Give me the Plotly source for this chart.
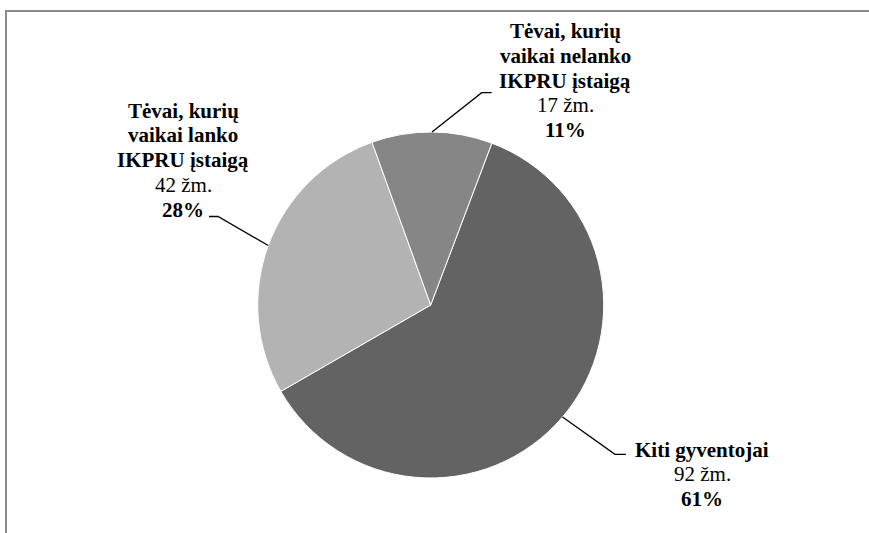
import math
import plotly.graph_objects as go

# ---------------------------------------------------------------------------
# Data
# ---------------------------------------------------------------------------
groups = ["Kiti gyventojai",
          "Tėvai, kurių vaikai lanko IKPRU įstaigą",
          "Tėvai, kurių vaikai nelanko IKPRU įstaigą"]
label_lines = [["Kiti gyventojai"],
               ["Tėvai, kurių", "vaikai lanko", "IKPRU įstaigą"],
               ["Tėvai, kurių", "vaikai nelanko", "IKPRU įstaigą"]]
people = [92, 42, 17]
colors = ["#636363", "#b3b3b3", "#868686"]

W, H = 869, 533
FONT = "Liberation Serif, Times New Roman, serif"
FS = 21
LINE_H = 24.8

# pie geometry (pixels)
cx, cy, r = 430.7, 305.0, 173.0
rotation = 20.7

# label placement: centre x, first baseline y, leader elbow, leader end
label_pos = [
    dict(x=702, y0=455.5, elbow=(615, 454.3), end=(626, 454.3)),
    dict(x=183, y0=116.7, elbow=(218, 216.5), end=(209, 216.5)),
    dict(x=565, y0=37.0, elbow=(481.7, 92.7), end=(491.7, 92.7)),
]


def px(x):
    return x / W


def py(y):
    return 1 - y / H


fig = go.Figure(go.Pie(
    labels=groups,
    values=people,
    sort=False,
    direction="clockwise",
    rotation=rotation,
    marker=dict(colors=colors, line=dict(color="white", width=1)),
    textinfo="none",
    hoverinfo="label+value+percent",
    domain=dict(x=[px(cx - r), px(cx + r)], y=[py(cy + r), py(cy - r)]),
))

total = sum(people)
annotations = []
shapes = []
angle = rotation
for lines, n, pos in zip(label_lines, people, label_pos):
    sweep = 360.0 * n / total
    mid = math.radians(angle + sweep / 2)
    angle += sweep
    # leader line from the slice edge (mid angle) to the label
    ex, ey = cx + r * math.sin(mid), cy - r * math.cos(mid)
    (bx, by), (tx, ty) = pos["elbow"], pos["end"]
    shapes.append(dict(
        type="path", xref="paper", yref="paper",
        path=f"M {px(ex)},{py(ey)} L {px(bx)},{py(by)} L {px(tx)},{py(ty)}",
        line=dict(color="black", width=1.3),
    ))
    texts = [f"<b>{t}</b>" for t in lines]
    texts.append(f"{n} žm.")
    texts.append(f"<b>{round(100 * n / total)}%</b>")
    for i, t in enumerate(texts):
        base = pos["y0"] + i * LINE_H
        annotations.append(dict(
            x=px(pos["x"]), y=py(base - 6), xref="paper", yref="paper",
            text=t, showarrow=False, xanchor="center", yanchor="middle",
            font=dict(family=FONT, size=FS, color="black"),
        ))

# chart frame (top and left edges visible)
shapes.append(dict(
    type="path", xref="paper", yref="paper",
    path=f"M {px(6)},{py(H + 2)} L {px(6)},{py(11)} L {px(W + 2)},{py(11)}",
    line=dict(color="#8a8a8a", width=2),
))

fig.update_layout(
    width=W,
    height=H,
    autosize=False,
    margin=dict(l=0, r=0, t=0, b=0),
    paper_bgcolor="white",
    plot_bgcolor="white",
    showlegend=False,
    annotations=annotations,
    shapes=shapes,
)

fig.write_html(
    "out.html",
    config={"displayModeBar": False},
    post_script="document.body.style.margin='0';"
                "document.body.style.overflow='hidden';",
)
